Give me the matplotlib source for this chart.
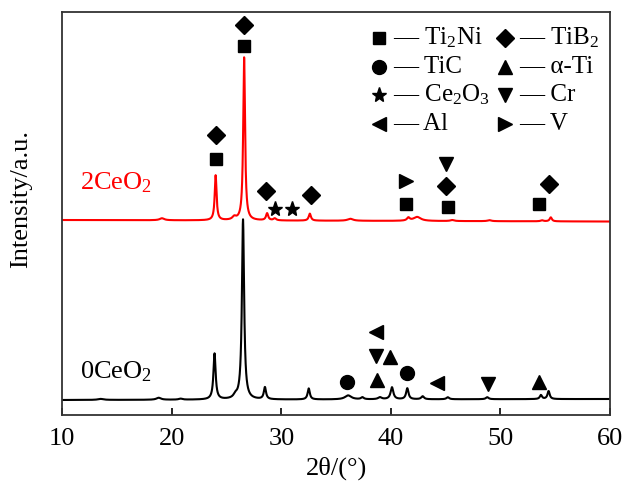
import numpy as np
import matplotlib.pyplot as plt

plt.rcParams['font.family'] = ['Liberation Serif', 'DejaVu Serif']
plt.rcParams['mathtext.fontset'] = 'custom'
plt.rcParams['mathtext.rm'] = 'Liberation Serif'
plt.rcParams['mathtext.it'] = 'Liberation Serif'

# peak lists: position (2theta), height, half width
peaks_0 = [(13.5, 1, 0.3), (18.8, 2, 0.25), (20.8, 1, 0.2), (23.9, 46, 0.12),
           (25.8, 3, 0.2), (26.5, 180, 0.12), (28.5, 12, 0.12), (32.5, 11, 0.12),
           (36.1, 4, 0.35), (37.4, 2, 0.15), (39.0, 2, 0.2), (40.1, 12, 0.15),
           (41.5, 11, 0.13), (42.9, 3, 0.15), (45.2, 2, 0.15), (48.8, 2, 0.15),
           (53.7, 4, 0.12), (54.4, 8, 0.12)]
peaks_2 = [(19.1, 2, 0.25), (24.0, 45, 0.1), (25.7, 3, 0.2), (26.6, 163, 0.1),
           (28.7, 7, 0.12), (29.4, 2, 0.15), (32.6, 7, 0.12), (36.3, 2, 0.3),
           (41.6, 3, 0.15), (42.4, 4, 0.4), (45.6, 1, 0.2), (49.0, 1, 0.2),
           (53.8, 1, 0.15), (54.6, 4, 0.12)]
offset_0 = 15
offset_2 = 195

# phase marks: (2theta, height, marker)
marks_2 = [(24.0, 256, 's'), (24.0, 280, 'D'), (26.6, 369, 's'), (26.6, 390, 'D'),
           (28.6, 224, 'D'), (29.4, 206, '*'), (31.0, 206, '*'), (32.7, 220, 'D'),
           (41.4, 234, '>'), (41.4, 211, 's'), (45.0, 251, 'v'), (45.0, 229, 'D'),
           (45.2, 208, 's'), (53.5, 211, 's'), (54.4, 231, 'D')]
marks_0 = [(36.0, 33, 'o'), (38.7, 35, '^'), (38.6, 59, 'v'), (39.9, 58, '^'),
           (38.6, 83, '<'), (41.5, 42, 'o'), (44.2, 32, '<'), (48.9, 31, 'v'),
           (53.5, 33, '^')]

phases = ['Ti$_2$Ni', 'TiC', 'Ce$_2$O$_3$', 'Al', 'TiB$_2$', 'α-Ti', 'Cr', 'V']
phase_markers = ['s', 'o', '*', '<', 'D', '^', 'v', '>']

sizes = {'s': 9, 'D': 9, 'o': 10, '^': 10, 'v': 10, '<': 10, '>': 10, '*': 11}

x = np.arange(10, 60.001, 0.01)


def pattern(peaks, slope):
    y = slope * (x - 10) / 50
    for c, h, w in peaks:
        y = y + h * w**2 / ((x - c)**2 + w**2)
    return y


y0 = pattern(peaks_0, 1.0) + offset_0
y2 = pattern(peaks_2, -1.5) + offset_2

fig, ax = plt.subplots(figsize=(6.23, 4.82), dpi=100)
fig.subplots_adjust(left=0.1, right=0.979, top=0.975, bottom=0.139)

ax.plot(x, y2, color='red', lw=1.5)
ax.plot(x, y0, color='black', lw=1.5)

for xm, ym, m in marks_2 + marks_0:
    ax.plot(xm, ym, marker=m, ms=sizes[m], color='black', ls='none')

ax.text(11.6, 232 - 195 + offset_2, '2CeO$_2$', color='red', fontsize=19, va='center')
ax.text(11.6, 43, '0CeO$_2$', color='black', fontsize=19, va='center')

# key drawn by hand: two columns of marker + dash + name
for i, (m, p) in enumerate(zip(phase_markers, phases)):
    col, row = divmod(i, 4)
    xa = (379 + 126 * col - 62) / 548
    ya = (415 - 38 - 28.5 * row) / 403
    ax.plot(xa, ya, marker=m, ms=sizes[m], color='black', ls='none',
            transform=ax.transAxes, clip_on=False)
    ax.text(xa + 0.025, ya, '— ' + p, fontsize=18, va='center',
            transform=ax.transAxes)

ax.set_xlim(10, 60)
ax.set_ylim(0, 403)
ax.set_xticks([10, 20, 30, 40, 50, 60])
ax.set_yticks([])
ax.tick_params(axis='x', direction='in', length=5, width=1.2, labelsize=19, pad=9)
for s in ax.spines.values():
    s.set_linewidth(1.3)
    s.set_color('#333333')
ax.set_xlabel('2θ/(°)', fontsize=19, labelpad=5)
ax.set_ylabel('Intensity/a.u.', fontsize=19)
ax.yaxis.set_label_coords(-0.055, 0.535)

fig.savefig('out.png', dpi=100)
